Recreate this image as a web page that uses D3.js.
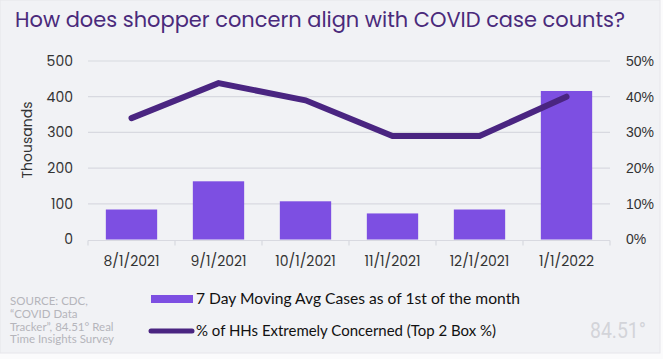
<!DOCTYPE html>
<html><head><meta charset="utf-8">
<script src="https://cdn.jsdelivr.net/npm/d3@7"></script>
<style>
html,body{margin:0;padding:0;background:#fbfbfc;}
svg{display:block;font-family:"Poppins","Lato","Open Sans",sans-serif;}
</style></head>
<body><svg id="c" width="663" height="359"></svg>
<script>
const categories = ["8/1/2021","9/1/2021","10/1/2021","11/1/2021","12/1/2021","1/1/2022"];
const cases = [84, 163, 107, 73, 84, 416]; // thousands
const concern = [0.34, 0.438, 0.39, 0.29, 0.29, 0.40];
const leftTicks = [0,100,200,300,400,500];
const rightTicks = [0,0.1,0.2,0.3,0.4,0.5];
const titleText = "How does shopper concern align with COVID case counts?";
const legendBar = "7 Day Moving Avg Cases as of 1st of the month";
const legendLine = "% of HHs Extremely Concerned (Top 2 Box %)";
const sourceLines = ["SOURCE: CDC,", "\u201CCOVID Data", "Tracker\u201D, 84.51\u00B0 Real", "Time Insights Survey"];

const svg = d3.select("#c");
svg.append("rect").attr("x",0).attr("y",0).attr("width",660).attr("height",353)
  .attr("fill","#f1f2f5").attr("stroke","#e6e6ea").attr("stroke-width",1);

const m = {l:88, r:610, t:61, b:239.5};
const x = d3.scaleBand().domain(categories).range([m.l, m.r]).paddingInner(0.41).paddingOuter(0.205);
const yL = d3.scaleLinear().domain([0,500]).range([m.b, m.t]);
const yR = d3.scaleLinear().domain([0,0.5]).range([m.b, m.t]);

// title
const t = svg.append("text").attr("x",15).attr("y",27).attr("fill","#4a2a7b")
  .attr("font-size",21).text(titleText);
t.attr("textLength", 610).attr("lengthAdjust","spacingAndGlyphs");

// gridlines
svg.append("g").selectAll("line").data(leftTicks.slice(1)).join("line")
  .attr("x1",m.l).attr("x2",m.r).attr("y1",d=>yL(d)).attr("y2",d=>yL(d))
  .attr("stroke","#d8d9e0").attr("stroke-width",1.2);

// left axis
const gl = svg.append("g").attr("transform",`translate(${m.l-15},0)`)
  .call(d3.axisLeft(yL).tickValues(leftTicks).tickSize(0).tickPadding(0));
gl.select(".domain").remove();
gl.selectAll("text").attr("font-size",14).attr("fill","#333").attr("font-family","Poppins, Lato, sans-serif");

// right axis
const gr = svg.append("g").attr("transform",`translate(${m.r+16},0)`)
  .call(d3.axisRight(yR).tickValues(rightTicks).tickFormat(d3.format(".0%")).tickSize(0).tickPadding(0));
gr.select(".domain").remove();
gr.selectAll("text").attr("font-size",14).attr("fill","#333");

// y title
svg.append("text").attr("transform","translate(32,140) rotate(-90)").attr("text-anchor","middle")
  .attr("font-size",14).attr("fill","#333").text("Thousands");

// bars
svg.append("g").selectAll("rect").data(cases).join("rect")
  .attr("x",(d,i)=>x(categories[i])).attr("width",x.bandwidth())
  .attr("y",d=>yL(d)).attr("height",d=>yL(0)-yL(d)).attr("fill","#7d4fe2");

// x axis
const gx = svg.append("g").attr("transform",`translate(0,${m.b+1})`);
gx.append("line").attr("x1",m.l).attr("x2",m.r).attr("stroke","#d8d9e0").attr("stroke-width",1.2);
const edges = categories.map(c=>x(c)-x.step()*x.paddingInner()/2).concat([m.r]);
gx.selectAll("line.tk").data(edges).join("line").attr("class","tk")
  .attr("x1",d=>d).attr("x2",d=>d).attr("y1",0).attr("y2",5).attr("stroke","#d8d9e0").attr("stroke-width",1.2);
gx.selectAll("text").data(categories).join("text")
  .attr("x",d=>x(d)+x.bandwidth()/2).attr("y",25).attr("text-anchor","middle")
  .attr("font-size",14).attr("fill","#333").text(d=>d);

// line
const line = d3.line().x((d,i)=>x(categories[i])+x.bandwidth()/2).y(d=>yR(d));
svg.append("path").datum(concern).attr("d",line).attr("fill","none")
  .attr("stroke","#4a2581").attr("stroke-width",6).attr("stroke-linecap","round").attr("stroke-linejoin","miter");

// legend
const lg = svg.append("g");
lg.append("rect").attr("x",151).attr("y",295).attr("width",42).attr("height",8).attr("fill","#7d4fe2");
lg.append("text").attr("x",196).attr("y",304).attr("font-size",15).attr("fill","#111")
  .attr("font-family","Lato, sans-serif").text(legendBar).attr("textLength",324).attr("lengthAdjust","spacingAndGlyphs");
lg.append("line").attr("x1",151).attr("x2",192).attr("y1",331).attr("y2",331)
  .attr("stroke","#4a2581").attr("stroke-width",5).attr("stroke-linecap","round");
lg.append("text").attr("x",196).attr("y",336).attr("font-size",15).attr("fill","#111")
  .attr("font-family","Lato, sans-serif").text(legendLine).attr("textLength",300).attr("lengthAdjust","spacingAndGlyphs");

// source
svg.append("g").selectAll("text").data(sourceLines).join("text")
  .attr("x",10).attr("y",(d,i)=>305+i*12.8).attr("font-size",11.5).attr("fill","#b5b5bb")
  .attr("font-family","Lato, sans-serif").text(d=>d);

// logo
svg.append("text").attr("x",590).attr("y",338).attr("font-size",22).attr("fill","#d3d4d9")
  .attr("font-family","Liberation Sans Narrow, Roboto, sans-serif")
  .text("84.51\u00B0").attr("textLength",56).attr("lengthAdjust","spacingAndGlyphs");
</script></body></html>
